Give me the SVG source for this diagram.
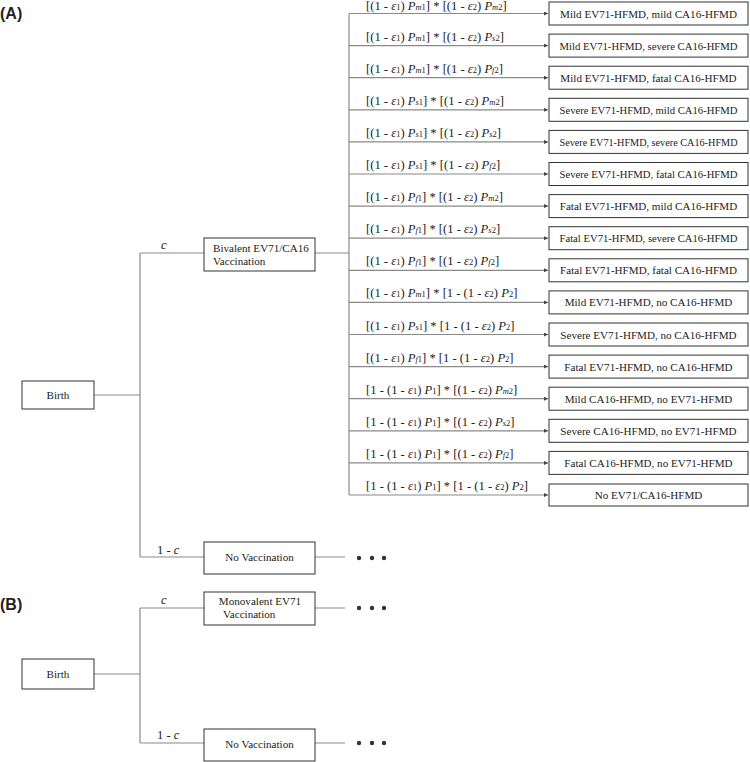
<svg xmlns="http://www.w3.org/2000/svg" width="750" height="762" viewBox="0 0 750 762">
<style>
.bg{fill:#fff}
.box{fill:#fff;stroke:#333;stroke-width:1}
.ln{fill:none;stroke:#8a8a8a;stroke-width:1.2}
.t{font-family:"Liberation Serif","Times New Roman",serif;font-size:11.1px;fill:#222}
.f{font-family:"Liberation Serif","Times New Roman",serif;font-size:12.6px;fill:#222}
.i{font-style:italic}
.s{font-size:8.5px}
.h{font-family:"Liberation Sans",Arial,sans-serif;font-size:16px;font-weight:bold;fill:#222}
.dot{fill:#333}
</style>
<defs>
<marker id="ah" viewBox="0 0 6 6" refX="6" refY="3" markerWidth="4" markerHeight="4" orient="auto" markerUnits="userSpaceOnUse">
<path d="M0,0 L6,3 L0,6 z" fill="#444"/>
</marker>
</defs>
<rect class="bg" x="0" y="0" width="750" height="762"/>
<text class="h" x="0" y="19">(A)</text>
<text class="h" x="0" y="610">(B)</text>

<g id="connectors">
<path class="ln" d="M94,395 H140 M140,253 V557 M140,253 H204 M140,557 H204 M315,253 H349 M349,13.5 V495 M315,557 H345"/>
<path class="ln" d="M94,674 H140 M140,608 V743 M140,608 H204 M140,743 H204 M315,608 H345 M315,743 H345"/>
<g class="ln" marker-end="url(#ah)">
<path d="M349,13.5 H548"/>
<path d="M349,45.6 H548"/>
<path d="M349,77.7 H548"/>
<path d="M349,109.8 H548"/>
<path d="M349,141.9 H548"/>
<path d="M349,174 H548"/>
<path d="M349,206.1 H548"/>
<path d="M349,238.2 H548"/>
<path d="M349,270.3 H548"/>
<path d="M349,302.4 H548"/>
<path d="M349,334.5 H548"/>
<path d="M349,366.6 H548"/>
<path d="M349,398.7 H548"/>
<path d="M349,430.8 H548"/>
<path d="M349,462.9 H548"/>
<path d="M349,495 H548"/>
</g>
<text class="f i" x="161" y="249" font-size="12">c</text>
<text class="f" x="157" y="554" font-size="12">1 - <tspan class="i">c</tspan></text>
<text class="f i" x="161" y="604" font-size="12">c</text>
<text class="f" x="157" y="739" font-size="12">1 - <tspan class="i">c</tspan></text>
<g class="f">
<text x="366" y="9.5">[(1 - <tspan class="i">ε</tspan><tspan class="s">1</tspan>) <tspan class="i">P</tspan><tspan class="s i">m</tspan><tspan class="s">1</tspan>] * [(1 - <tspan class="i">ε</tspan><tspan class="s">2</tspan>) <tspan class="i">P</tspan><tspan class="s i">m</tspan><tspan class="s">2</tspan>]</text>
<text x="366" y="40.6">[(1 - <tspan class="i">ε</tspan><tspan class="s">1</tspan>) <tspan class="i">P</tspan><tspan class="s i">m</tspan><tspan class="s">1</tspan>] * [(1 - <tspan class="i">ε</tspan><tspan class="s">2</tspan>) <tspan class="i">P</tspan><tspan class="s i">s</tspan><tspan class="s">2</tspan>]</text>
<text x="366" y="72.7">[(1 - <tspan class="i">ε</tspan><tspan class="s">1</tspan>) <tspan class="i">P</tspan><tspan class="s i">m</tspan><tspan class="s">1</tspan>] * [(1 - <tspan class="i">ε</tspan><tspan class="s">2</tspan>) <tspan class="i">P</tspan><tspan class="s i">f</tspan><tspan class="s">2</tspan>]</text>
<text x="366" y="104.8">[(1 - <tspan class="i">ε</tspan><tspan class="s">1</tspan>) <tspan class="i">P</tspan><tspan class="s i">s</tspan><tspan class="s">1</tspan>] * [(1 - <tspan class="i">ε</tspan><tspan class="s">2</tspan>) <tspan class="i">P</tspan><tspan class="s i">m</tspan><tspan class="s">2</tspan>]</text>
<text x="366" y="136.9">[(1 - <tspan class="i">ε</tspan><tspan class="s">1</tspan>) <tspan class="i">P</tspan><tspan class="s i">s</tspan><tspan class="s">1</tspan>] * [(1 - <tspan class="i">ε</tspan><tspan class="s">2</tspan>) <tspan class="i">P</tspan><tspan class="s i">s</tspan><tspan class="s">2</tspan>]</text>
<text x="366" y="169">[(1 - <tspan class="i">ε</tspan><tspan class="s">1</tspan>) <tspan class="i">P</tspan><tspan class="s i">s</tspan><tspan class="s">1</tspan>] * [(1 - <tspan class="i">ε</tspan><tspan class="s">2</tspan>) <tspan class="i">P</tspan><tspan class="s i">f</tspan><tspan class="s">2</tspan>]</text>
<text x="366" y="201.1">[(1 - <tspan class="i">ε</tspan><tspan class="s">1</tspan>) <tspan class="i">P</tspan><tspan class="s i">f</tspan><tspan class="s">1</tspan>] * [(1 - <tspan class="i">ε</tspan><tspan class="s">2</tspan>) <tspan class="i">P</tspan><tspan class="s i">m</tspan><tspan class="s">2</tspan>]</text>
<text x="366" y="233.2">[(1 - <tspan class="i">ε</tspan><tspan class="s">1</tspan>) <tspan class="i">P</tspan><tspan class="s i">f</tspan><tspan class="s">1</tspan>] * [(1 - <tspan class="i">ε</tspan><tspan class="s">2</tspan>) <tspan class="i">P</tspan><tspan class="s i">s</tspan><tspan class="s">2</tspan>]</text>
<text x="366" y="265.3">[(1 - <tspan class="i">ε</tspan><tspan class="s">1</tspan>) <tspan class="i">P</tspan><tspan class="s i">f</tspan><tspan class="s">1</tspan>] * [(1 - <tspan class="i">ε</tspan><tspan class="s">2</tspan>) <tspan class="i">P</tspan><tspan class="s i">f</tspan><tspan class="s">2</tspan>]</text>
<text x="366" y="297.4">[(1 - <tspan class="i">ε</tspan><tspan class="s">1</tspan>) <tspan class="i">P</tspan><tspan class="s i">m</tspan><tspan class="s">1</tspan>] * [1 - (1 - <tspan class="i">ε</tspan><tspan class="s">2</tspan>) <tspan class="i">P</tspan><tspan class="s">2</tspan>]</text>
<text x="366" y="329.5">[(1 - <tspan class="i">ε</tspan><tspan class="s">1</tspan>) <tspan class="i">P</tspan><tspan class="s i">s</tspan><tspan class="s">1</tspan>] * [1 - (1 - <tspan class="i">ε</tspan><tspan class="s">2</tspan>) <tspan class="i">P</tspan><tspan class="s">2</tspan>]</text>
<text x="366" y="361.6">[(1 - <tspan class="i">ε</tspan><tspan class="s">1</tspan>) <tspan class="i">P</tspan><tspan class="s i">f</tspan><tspan class="s">1</tspan>] * [1 - (1 - <tspan class="i">ε</tspan><tspan class="s">2</tspan>) <tspan class="i">P</tspan><tspan class="s">2</tspan>]</text>
<text x="366" y="393.7">[1 - (1 - <tspan class="i">ε</tspan><tspan class="s">1</tspan>) <tspan class="i">P</tspan><tspan class="s">1</tspan>] * [(1 - <tspan class="i">ε</tspan><tspan class="s">2</tspan>) <tspan class="i">P</tspan><tspan class="s i">m</tspan><tspan class="s">2</tspan>]</text>
<text x="366" y="425.8">[1 - (1 - <tspan class="i">ε</tspan><tspan class="s">1</tspan>) <tspan class="i">P</tspan><tspan class="s">1</tspan>] * [(1 - <tspan class="i">ε</tspan><tspan class="s">2</tspan>) <tspan class="i">P</tspan><tspan class="s i">s</tspan><tspan class="s">2</tspan>]</text>
<text x="366" y="457.9">[1 - (1 - <tspan class="i">ε</tspan><tspan class="s">1</tspan>) <tspan class="i">P</tspan><tspan class="s">1</tspan>] * [(1 - <tspan class="i">ε</tspan><tspan class="s">2</tspan>) <tspan class="i">P</tspan><tspan class="s i">f</tspan><tspan class="s">2</tspan>]</text>
<text x="366" y="490">[1 - (1 - <tspan class="i">ε</tspan><tspan class="s">1</tspan>) <tspan class="i">P</tspan><tspan class="s">1</tspan>] * [1 - (1 - <tspan class="i">ε</tspan><tspan class="s">2</tspan>) <tspan class="i">P</tspan><tspan class="s">2</tspan>]</text>
</g>
</g>

<g id="birthA"><rect class="box" x="22" y="381" width="72" height="28"/><text class="t" x="58" y="399" text-anchor="middle" font-size="12.5">Birth</text></g>
<g id="bivalent"><rect class="box" x="204" y="238" width="111" height="33"/><text class="t" x="213" y="252">Bivalent EV71/CA16</text><text class="t" x="213" y="265">Vaccination</text></g>
<g id="noVaccA"><rect class="box" x="204" y="542" width="111" height="32"/><text class="t" x="259.5" y="561" text-anchor="middle">No Vaccination</text></g>
<g id="dotsA1"><circle class="dot" cx="359" cy="558" r="2.2"/><circle class="dot" cx="372" cy="558" r="2.2"/><circle class="dot" cx="384" cy="558" r="2.2"/></g>

<g id="outcomes">
<g id="o1"><rect class="box" x="549" y="2" width="199" height="23"/><text class="t" x="648.5" y="17.5" text-anchor="middle">Mild EV71-HFMD, mild CA16-HFMD</text></g>
<g id="o2"><rect class="box" x="549" y="34.1" width="199" height="23"/><text class="t" x="648.5" y="49.6" text-anchor="middle" textLength="178" lengthAdjust="spacingAndGlyphs">Mild EV71-HFMD, severe CA16-HFMD</text></g>
<g id="o3"><rect class="box" x="549" y="66.2" width="199" height="23"/><text class="t" x="648.5" y="81.7" text-anchor="middle">Mild EV71-HFMD, fatal CA16-HFMD</text></g>
<g id="o4"><rect class="box" x="549" y="98.3" width="199" height="23"/><text class="t" x="648.5" y="113.8" text-anchor="middle" textLength="178" lengthAdjust="spacingAndGlyphs">Severe EV71-HFMD, mild CA16-HFMD</text></g>
<g id="o5"><rect class="box" x="549" y="130.4" width="199" height="23"/><text class="t" x="648.5" y="145.9" text-anchor="middle" textLength="178" lengthAdjust="spacingAndGlyphs">Severe EV71-HFMD, severe CA16-HFMD</text></g>
<g id="o6"><rect class="box" x="549" y="162.5" width="199" height="23"/><text class="t" x="648.5" y="178" text-anchor="middle" textLength="178" lengthAdjust="spacingAndGlyphs">Severe EV71-HFMD, fatal CA16-HFMD</text></g>
<g id="o7"><rect class="box" x="549" y="194.6" width="199" height="23"/><text class="t" x="648.5" y="210.1" text-anchor="middle">Fatal EV71-HFMD, mild CA16-HFMD</text></g>
<g id="o8"><rect class="box" x="549" y="226.7" width="199" height="23"/><text class="t" x="648.5" y="242.2" text-anchor="middle" textLength="178" lengthAdjust="spacingAndGlyphs">Fatal EV71-HFMD, severe CA16-HFMD</text></g>
<g id="o9"><rect class="box" x="549" y="258.8" width="199" height="23"/><text class="t" x="648.5" y="274.3" text-anchor="middle">Fatal EV71-HFMD, fatal CA16-HFMD</text></g>
<g id="o10"><rect class="box" x="549" y="290.9" width="199" height="23"/><text class="t" x="648.5" y="306.4" text-anchor="middle">Mild EV71-HFMD, no CA16-HFMD</text></g>
<g id="o11"><rect class="box" x="549" y="323" width="199" height="23"/><text class="t" x="648.5" y="338.5" text-anchor="middle">Severe EV71-HFMD, no CA16-HFMD</text></g>
<g id="o12"><rect class="box" x="549" y="355.1" width="199" height="23"/><text class="t" x="648.5" y="370.6" text-anchor="middle">Fatal EV71-HFMD, no CA16-HFMD</text></g>
<g id="o13"><rect class="box" x="549" y="387.2" width="199" height="23"/><text class="t" x="648.5" y="402.7" text-anchor="middle">Mild CA16-HFMD, no EV71-HFMD</text></g>
<g id="o14"><rect class="box" x="549" y="419.3" width="199" height="23"/><text class="t" x="648.5" y="434.8" text-anchor="middle">Severe CA16-HFMD, no EV71-HFMD</text></g>
<g id="o15"><rect class="box" x="549" y="451.4" width="199" height="23"/><text class="t" x="648.5" y="466.9" text-anchor="middle">Fatal CA16-HFMD, no EV71-HFMD</text></g>
<g id="o16"><rect class="box" x="549" y="484" width="199" height="22"/><text class="t" x="648.5" y="499" text-anchor="middle">No EV71/CA16-HFMD</text></g>
</g>

<g id="birthB"><rect class="box" x="22" y="659" width="72" height="30"/><text class="t" x="58" y="678" text-anchor="middle" font-size="12.5">Birth</text></g>
<g id="monovalent"><rect class="box" x="204" y="592" width="111" height="33"/><text class="t" x="260" y="605" text-anchor="middle">Monovalent EV71</text><text class="t" x="223" y="618">Vaccination</text></g>
<g id="dotsB1"><circle class="dot" cx="359" cy="608" r="2.2"/><circle class="dot" cx="372" cy="608" r="2.2"/><circle class="dot" cx="384" cy="608" r="2.2"/></g>
<g id="noVaccB"><rect class="box" x="204" y="729" width="111" height="32"/><text class="t" x="259.5" y="748" text-anchor="middle">No Vaccination</text></g>
<g id="dotsB2"><circle class="dot" cx="359" cy="743" r="2.2"/><circle class="dot" cx="372" cy="743" r="2.2"/><circle class="dot" cx="384" cy="743" r="2.2"/></g>
</svg>
